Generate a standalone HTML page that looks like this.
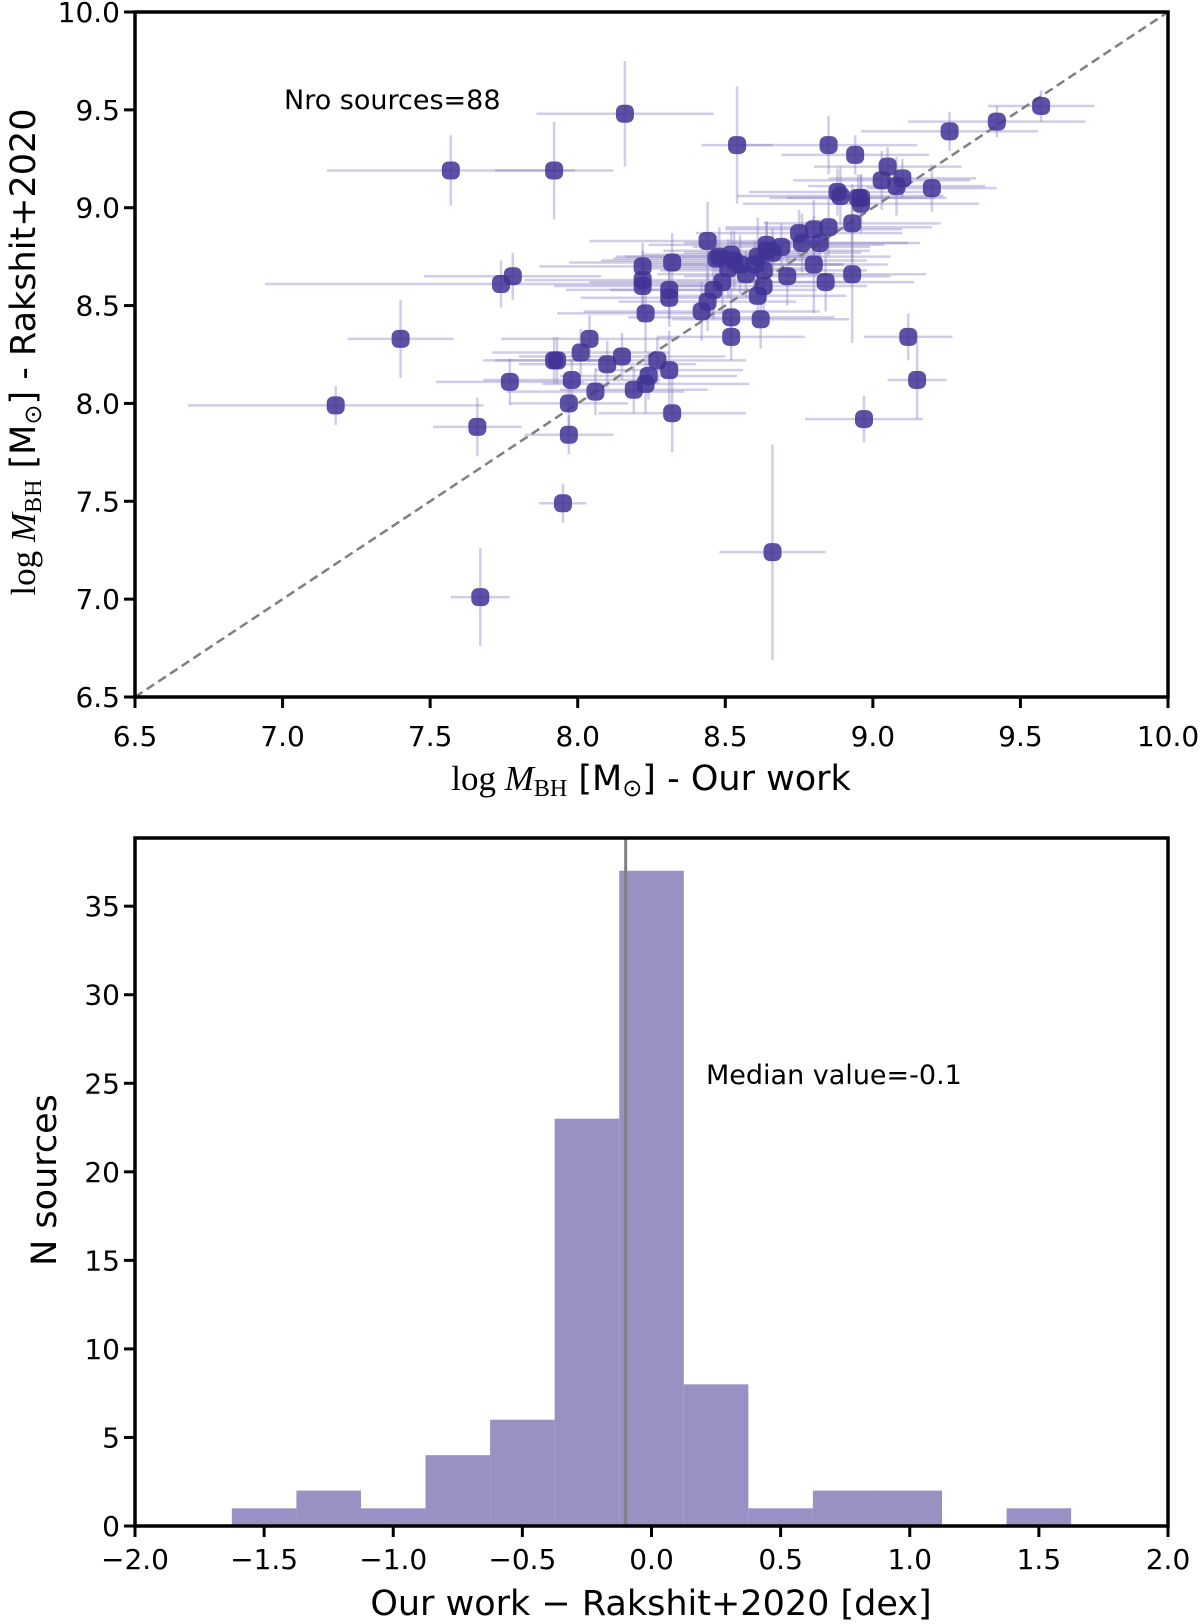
<!DOCTYPE html>
<html><head><meta charset="utf-8"><style>
body{margin:0;background:#fff}
svg{display:block;font-family:"DejaVu Sans","Liberation Sans",sans-serif}
</style></head><body>
<svg id="fig" width="1200" height="1624" viewBox="0 0 1200 1624" xmlns="http://www.w3.org/2000/svg">
<g id="topPanel"></g>
<g id="botPanel"></g>
</svg>
<script>
// Scatter data
const xs=[8.16,7.57,7.92,8.54,8.85,8.94,9.26,9.42,9.57,9.05,9.03,9.10,9.08,9.20,8.88,8.89,8.95,8.96,8.96,8.93,8.85,8.80,8.75,8.76,8.82,8.64,8.69,8.64,8.61,8.44,8.48,8.52,8.53,8.55,8.60,8.80,8.71,8.57,8.49,8.63,8.61,8.46,8.44,8.42,8.52,8.62,8.52,8.93,8.84,8.32,8.22,8.22,8.22,8.31,8.31,8.23,7.78,7.74,7.40,8.04,8.01,7.92,7.93,8.15,8.10,8.27,8.31,8.24,8.23,8.19,7.98,8.06,7.77,7.97,7.18,7.66,8.32,7.97,7.95,9.12,9.15,8.97,8.66,7.67,8.63,8.51,8.47,8.66];
const ys=[9.48,9.19,9.19,9.32,9.32,9.27,9.39,9.44,9.52,9.21,9.14,9.15,9.11,9.10,9.08,9.06,9.05,9.05,9.02,8.92,8.90,8.89,8.87,8.82,8.82,8.81,8.80,8.78,8.75,8.83,8.75,8.76,8.73,8.71,8.71,8.71,8.65,8.66,8.62,8.60,8.55,8.58,8.52,8.47,8.44,8.43,8.34,8.66,8.62,8.72,8.70,8.63,8.60,8.58,8.54,8.46,8.65,8.61,8.33,8.33,8.26,8.22,8.22,8.24,8.20,8.22,8.17,8.14,8.10,8.07,8.12,8.06,8.11,8.00,7.99,7.88,7.95,7.84,7.49,8.34,8.12,7.92,7.24,7.01,8.68,8.69,8.74,8.77];
const xerr=[0.30,0.42,0.20,0.12,0.30,0.25,0.30,0.30,0.18,0.25,0.30,0.25,0.30,0.22,0.30,0.35,0.30,0.25,0.40,0.30,0.35,0.30,0.35,0.40,0.30,0.40,0.30,0.35,0.45,0.40,0.35,0.30,0.45,0.35,0.30,0.25,0.35,0.30,0.45,0.35,0.30,0.35,0.30,0.40,0.35,0.30,0.25,0.25,0.30,0.35,0.35,0.40,0.30,0.35,0.30,0.30,0.30,0.80,0.18,0.30,0.30,0.20,0.25,0.35,0.30,0.30,0.25,0.30,0.35,0.25,0.30,0.30,0.25,0.20,0.50,0.15,0.25,0.15,0.08,0.15,0.10,0.20,0.18,0.10,0.35,0.30,0.35,0.30];
const yerr=[0.27,0.18,0.25,0.30,0.15,0.10,0.10,0.08,0.08,0.10,0.15,0.10,0.15,0.12,0.12,0.15,0.12,0.12,0.15,0.20,0.15,0.15,0.12,0.15,0.12,0.12,0.12,0.15,0.20,0.20,0.15,0.12,0.15,0.15,0.12,0.25,0.15,0.12,0.15,0.15,0.12,0.15,0.15,0.15,0.15,0.15,0.12,0.35,0.15,0.15,0.12,0.15,0.15,0.15,0.15,0.20,0.12,0.12,0.20,0.12,0.12,0.12,0.12,0.12,0.12,0.12,0.20,0.12,0.15,0.12,0.10,0.12,0.12,0.12,0.10,0.15,0.20,0.10,0.10,0.12,0.20,0.12,0.55,0.25,0.12,0.15,0.12,0.12];
const xTicks=[6.5,7.0,7.5,8.0,8.5,9.0,9.5,10.0];
const yTicks=[6.5,7.0,7.5,8.0,8.5,9.0,9.5,10.0];
// Histogram data
const binEdges=[-1.625,-1.375,-1.125,-0.875,-0.625,-0.375,-0.125,0.125,0.375,0.625,0.875,1.125,1.375,1.625];
const counts=[1,2,1,4,6,23,37,8,1,2,2,0,1];
const medianValue=-0.1;
const hxTicks=[-2.0,-1.5,-1.0,-0.5,0.0,0.5,1.0,1.5,2.0];
const hyTicks=[0,5,10,15,20,25,30,35];

const NS="http://www.w3.org/2000/svg";
function mk(parent,tag,attrs,text){const e=document.createElementNS(NS,tag);for(const k in attrs)e.setAttribute(k,attrs[k]);if(text!==undefined)e.textContent=text;parent.appendChild(e);return e;}
const fmt=v=>(v<0?"\u2212":"")+Math.abs(v).toFixed(1);

// ---- top scatter ----
const T={l:135,r:1168,t:12,b:697};
const sx=v=>T.l+(v-6.5)/3.5*(T.r-T.l);
const sy=v=>T.b-(v-6.5)/3.5*(T.b-T.t);
const topG=document.getElementById('topPanel');
const eg=mk(topG,'g',{stroke:'#8c80c4','stroke-opacity':'0.4','stroke-width':'2.5'});


for(let i=0;i<xs.length;i++){
 mk(eg,'line',{x1:sx(xs[i]-xerr[i]),x2:sx(xs[i]+xerr[i]),y1:sy(ys[i]),y2:sy(ys[i])});
 mk(eg,'line',{x1:sx(xs[i]),x2:sx(xs[i]),y1:sy(ys[i]-yerr[i]),y2:sy(ys[i]+yerr[i])});
}
const dl=mk(topG,'line',{x1:sx(6.5),y1:sy(6.5),x2:sx(10),y2:sy(10),stroke:'#808080','stroke-width':'2.5','stroke-dasharray':'9,5'});


for(let i=0;i<xs.length;i++){
 const c=mk(topG,'rect',{x:sx(xs[i])-9,y:sy(ys[i])-9,width:18,height:18,rx:6.5,fill:'#3f3394','fill-opacity':'0.85'});
 
 
}
const fr=mk(topG,'rect',{x:T.l,y:T.t,width:T.r-T.l,height:T.b-T.t,fill:'none',stroke:'#000','stroke-width':'3.5'});


xTicks.forEach(v=>{const x=sx(v);mk(topG,'line',{x1:x,x2:x,y1:T.b,y2:T.b+11,stroke:'#000','stroke-width':'3'});
 const t=mk(topG,'text',{x:x,y:746,'text-anchor':'middle','font-size':'28'},v.toFixed(1));
 
 });
yTicks.forEach(v=>{const y=sy(v);mk(topG,'line',{x1:T.l-11,x2:T.l,y1:y,y2:y,stroke:'#000','stroke-width':'3'});
 const t=mk(topG,'text',{x:T.l-15,y:y+10,'text-anchor':'end','font-size':'28'},v.toFixed(1));
 
 });
const ann=mk(topG,'text',{x:284,y:109,'font-size':'27'},'Nro sources=88');



// ---- histogram ----
const H={l:135,r:1168,t:838,b:1526};
const hx=v=>H.l+(v+2)/4*(H.r-H.l);
const hy=v=>H.b-v/38.85*(H.b-H.t);
const botG=document.getElementById('botPanel');
counts.forEach((c,i)=>{if(c<=0)return;
 const r=mk(botG,'rect',{x:hx(binEdges[i]),y:hy(c),width:hx(binEdges[i+1])-hx(binEdges[i]),height:hy(0)-hy(c),fill:'#9990c4'});
 
 });
const ml=mk(botG,'line',{x1:hx(medianValue),x2:hx(medianValue),y1:H.t,y2:H.b,stroke:'#808080','stroke-width':'3'});


const hf=mk(botG,'rect',{x:H.l,y:H.t,width:H.r-H.l,height:H.b-H.t,fill:'none',stroke:'#000','stroke-width':'3.5'});


hxTicks.forEach(v=>{const x=hx(v);mk(botG,'line',{x1:x,x2:x,y1:H.b,y2:H.b+11,stroke:'#000','stroke-width':'3'});
 const t=mk(botG,'text',{x:x,y:1569,'text-anchor':'middle','font-size':'28'},fmt(v));
 
 });
hyTicks.forEach(v=>{const y=hy(v);mk(botG,'line',{x1:H.l-11,x2:H.l,y1:y,y2:y,stroke:'#000','stroke-width':'3'});
 const t=mk(botG,'text',{x:H.l-15,y:y+10,'text-anchor':'end','font-size':'28'},String(v));
 
 });
const ma=mk(botG,'text',{x:706,y:1084,'font-size':'27'},'Median value=-0.1');


</script>
<div style="position:absolute;left:0;top:0;width:1200px;height:1624px;pointer-events:none">
<svg width="1200" height="1624" style="position:absolute;left:0;top:0;font-family:'DejaVu Sans','Liberation Sans',sans-serif">
<text x="651" y="790" text-anchor="middle" font-size="35"><tspan font-family="Liberation Serif,serif">log </tspan><tspan font-family="Liberation Serif,serif" font-style="italic">M</tspan><tspan font-family="Liberation Serif,serif" font-size="24" dy="6">BH</tspan><tspan dy="-6"> [M</tspan><tspan font-size="24" dy="6">⊙</tspan><tspan dy="-6">] - Our work</tspan></text>
<text transform="translate(35,352) rotate(-90)" text-anchor="middle" font-size="35"><tspan font-family="Liberation Serif,serif">log </tspan><tspan font-family="Liberation Serif,serif" font-style="italic">M</tspan><tspan font-family="Liberation Serif,serif" font-size="24" dy="6">BH</tspan><tspan dy="-6"> [M</tspan><tspan font-size="24" dy="6">⊙</tspan><tspan dy="-6">] - Rakshit+2020</tspan></text>
<text x="651" y="1615" text-anchor="middle" font-size="35">Our work − Rakshit+2020 [dex]</text>
<text transform="translate(56,1180) rotate(-90)" text-anchor="middle" font-size="35">N sources</text>
</svg></div>
</body></html>
